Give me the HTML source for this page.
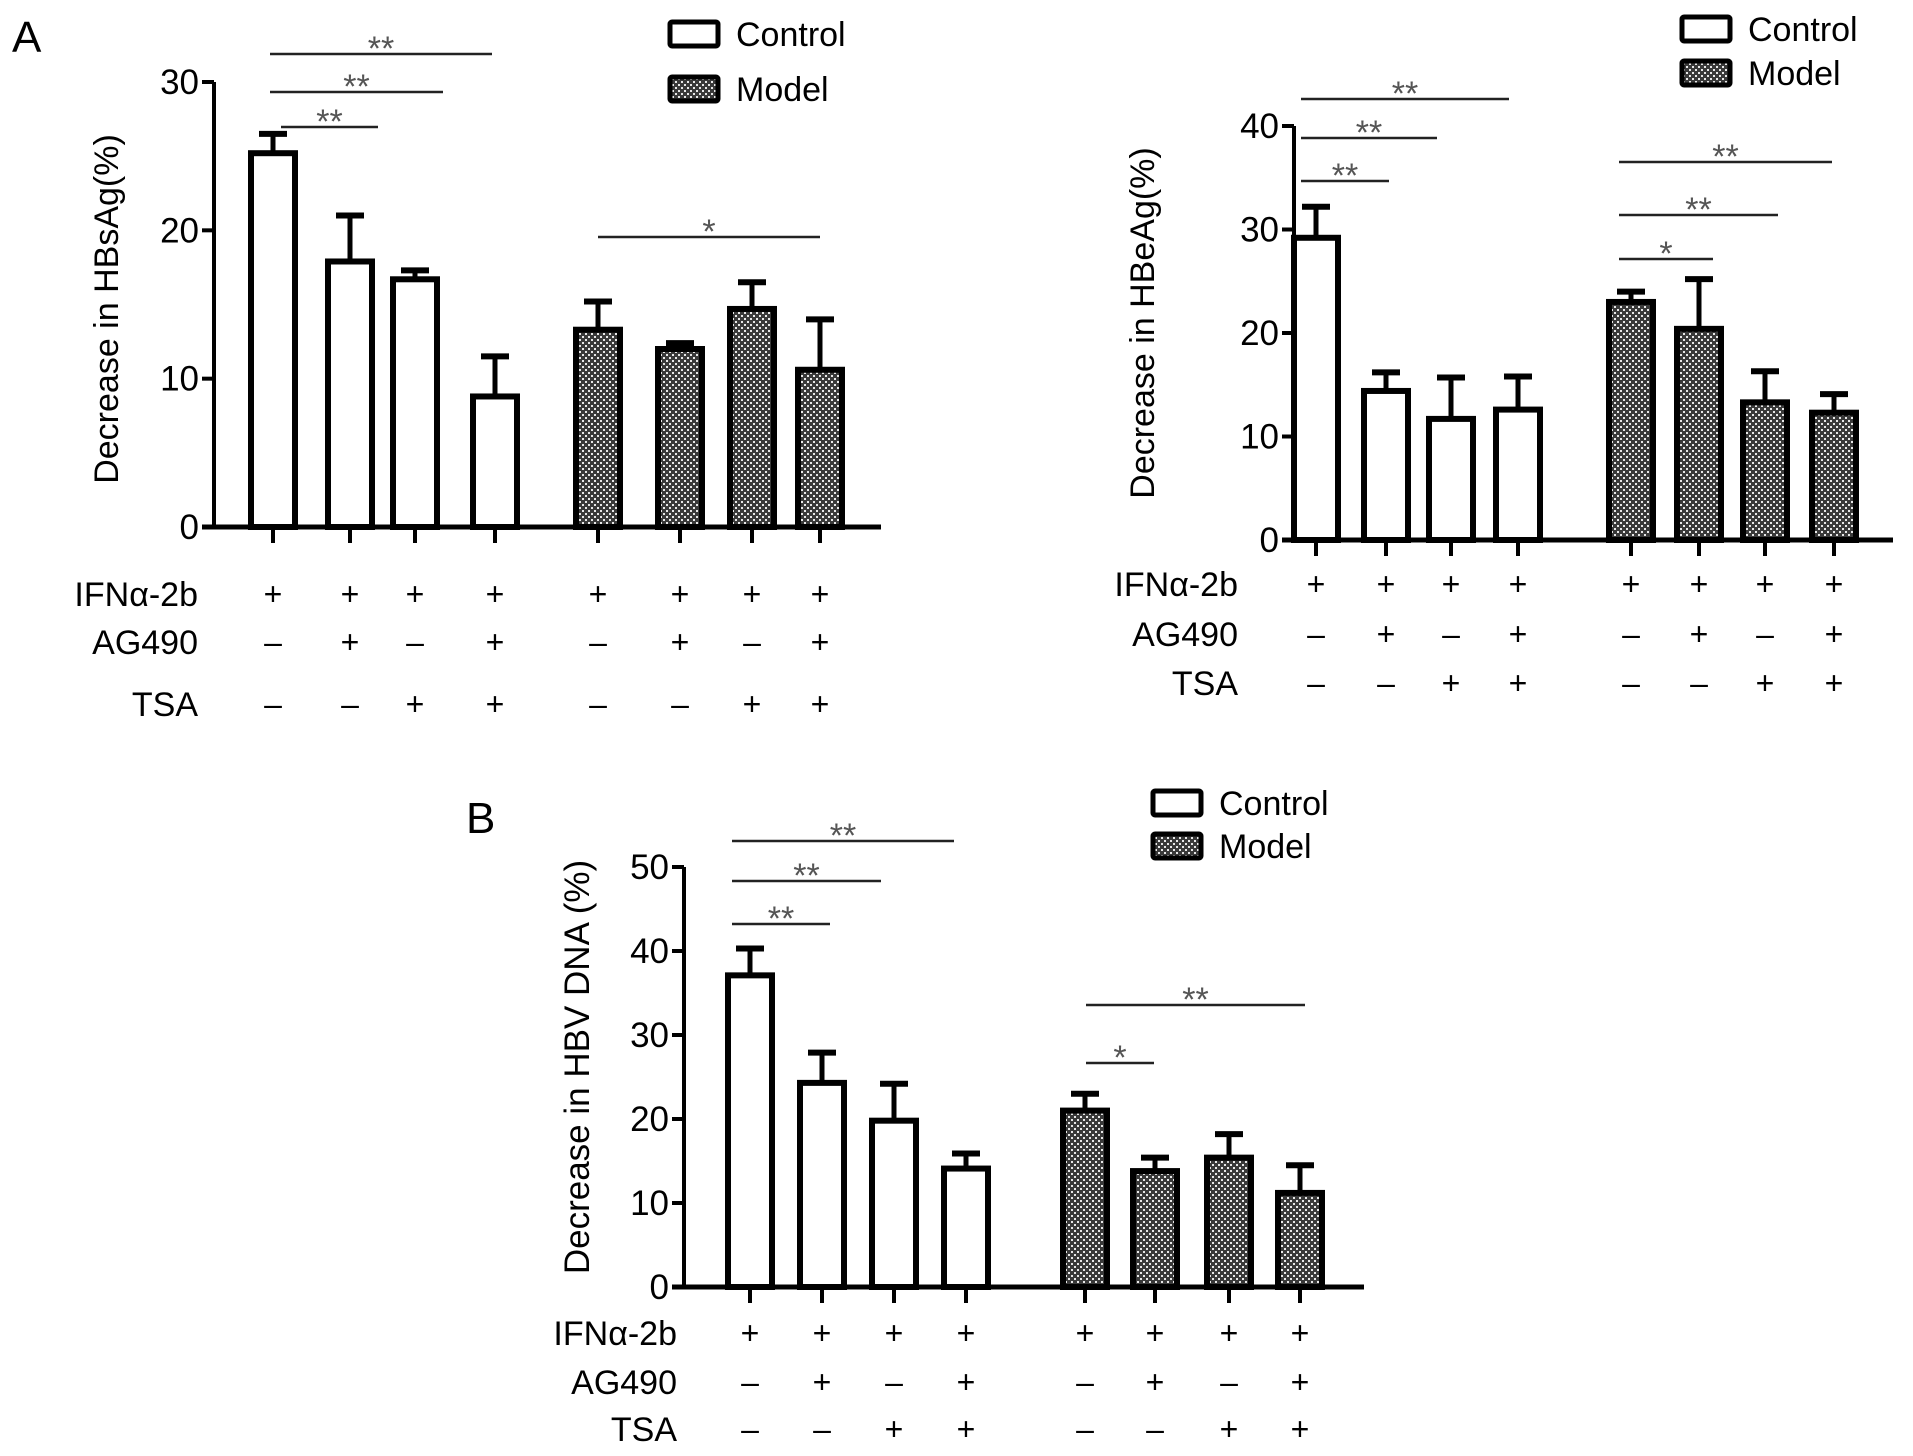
<!DOCTYPE html>
<html><head><meta charset="utf-8"><style>
html,body{margin:0;padding:0;background:#fff;}
svg{display:block;font-family:"Liberation Sans",Arial,sans-serif;}
</style></head><body>
<svg id="fig" width="1913" height="1456" viewBox="0 0 1913 1456" xmlns="http://www.w3.org/2000/svg">
<defs>
<pattern id="chk" width="6" height="6" patternUnits="userSpaceOnUse">
<rect width="6" height="6" fill="#3a3a3a"/>
<rect x="0" y="0" width="2" height="2" fill="#e8e8e8"/>
<rect x="3" y="3" width="2" height="2" fill="#e8e8e8"/>
</pattern>
</defs>
<text x="12" y="52" font-size="44">A</text>
<text x="466" y="833" font-size="44">B</text>
</svg>
<script>
// ---- Data ----
const categories = ["Control","Control","Control","Control","Model","Model","Model","Model"];
const ifnRow = ["+","+","+","+","+","+","+","+"];
const ag490Row = ["–","+","–","+","–","+","–","+"];
const tsaRow = ["–","–","+","+","–","–","+","+"];

const hbsagValues = [25.2,17.9,16.7,8.8,13.3,12.0,14.7,10.6];
const hbsagErrors = [1.3,3.1,0.6,2.7,1.9,0.4,1.8,3.4];
const hbsagTicks = [0,10,20,30];

const hbeagValues = [29.2,14.4,11.7,12.6,23.0,20.4,13.3,12.3];
const hbeagErrors = [3.0,1.8,4.0,3.2,1.0,4.8,3.0,1.8];
const hbeagTicks = [0,10,20,30,40];

const hbvValues = [37.1,24.3,19.8,14.1,21.0,13.8,15.4,11.2];
const hbvErrors = [3.2,3.6,4.4,1.8,2.0,1.6,2.8,3.3];
const hbvTicks = [0,10,20,30,40,50];

const NS = "http://www.w3.org/2000/svg";
const svg = document.getElementById("fig");
function mk(tag, attrs, parent){
  const e = document.createElementNS(NS, tag);
  for (const k in attrs) e.setAttribute(k, attrs[k]);
  (parent||svg).appendChild(e);
  return e;
}

function panel(cfg){
  const g = mk("g", {});
  
  
  const yScale = v => cfg.y0 - (v - 0) / cfg.ymax * (cfg.y0 - cfg.yTop);
  cfg.values.forEach((v,i)=>{
    const cx = cfg.centers[i];
    const yv = yScale(v), ye = yScale(v + cfg.errors[i]);
    const eb = mk("line", {x1:cx,x2:cx,y1:yv,y2:ye,stroke:"#000","stroke-width":5}, g);
    
    
    const cap = mk("line", {x1:cx-14,x2:cx+14,y1:ye,y2:ye,stroke:"#000","stroke-width":6}, g);
    
    
    const r = mk("rect", {x:cx-22,y:yv,width:44,height:cfg.y0-yv,
      fill: categories[i]==="Model" ? "url(#chk)" : "#fff", stroke:"#000","stroke-width":6}, g);
    
    
  });
  const ya = mk("line", {x1:cfg.ax,x2:cfg.ax,y1:cfg.yTop,y2:cfg.y0,stroke:"#000","stroke-width":4}, g);
  
  
  const xa = mk("line", {x1:cfg.ax-12,x2:cfg.xEnd,y1:cfg.y0,y2:cfg.y0,stroke:"#000","stroke-width":5}, g);
  
  
  cfg.ticks.forEach(t=>{
    const y = yScale(t);
    mk("line", {x1:cfg.ax-12,x2:cfg.ax,y1:y,y2:y,stroke:"#000","stroke-width":4}, g);
    const tl = mk("text", {x:cfg.ax-15,y:y+12,"text-anchor":"end","font-size":35}, g);
    tl.textContent = t;
    
    
  });
  cfg.centers.forEach(cx=>{
    mk("line", {x1:cx,x2:cx,y1:cfg.y0,y2:cfg.y0+16,stroke:"#000","stroke-width":4}, g);
  });
  const yt = mk("text", {x:0,y:0,"text-anchor":"middle","font-size":cfg.titleSize,
    transform:`translate(${cfg.titleX},${cfg.titleY}) rotate(-90)`}, g);
  yt.textContent = cfg.title;
  
  
  const rows = [["IFNα-2b", ifnRow],["AG490", ag490Row],["TSA", tsaRow]];
  rows.forEach((row,ri)=>{
    const y = cfg.rowY[ri];
    const lab = mk("text", {x:cfg.labelRight,y:y+12,"text-anchor":"end","font-size":34}, g);
    lab.textContent = row[0];
    
    
    row[1].forEach((s,i)=>{
      const t = mk("text", {x:cfg.centers[i],y:y+11,"text-anchor":"middle","font-size":32}, g);
      t.textContent = s;
      
      
    });
  });
  cfg.sig.forEach(s=>{
    const l = mk("line", {x1:s[0],x2:s[1],y1:s[2],y2:s[2],stroke:"#222","stroke-width":2.5}, g);
    
    
    const t = mk("text", {x:(s[0]+s[1])/2,y:s[2]+6,"text-anchor":"middle","font-size":34,fill:"#555"}, g);
    t.textContent = s[3];
    
    
  });
  const L = cfg.legend;
  [["Control","#fff",L.y1],["Model","url(#chk)",L.y2]].forEach(it=>{
    const b = mk("rect", {x:L.x,y:it[2]-12,width:48,height:24,fill:it[1],stroke:"#000","stroke-width":5,rx:2}, g);
    
    
    const t = mk("text", {x:L.x+66,y:it[2]+12,"font-size":34}, g);
    t.textContent = it[0];
    
    
  });
}

panel({name:"chart-hbsag", values:hbsagValues, errors:hbsagErrors, ticks:hbsagTicks, ymax:30,
  ax:214, y0:527, yTop:82, xEnd:881,
  centers:[273,350,415,495,598,680,752,820],
  title:"Decrease in HBsAg(%)", titleSize:34, titleX:118, titleY:309,
  rowY:[594,642,704], labelRight:198,
  sig:[[270,492,54,"**"],[270,443,92,"**"],[281,378,127,"**"],[598,820,237,"*"]],
  legend:{x:670,y1:34,y2:89}});

panel({name:"chart-hbeag", values:hbeagValues, errors:hbeagErrors, ticks:hbeagTicks, ymax:40,
  ax:1294, y0:540, yTop:126, xEnd:1893,
  centers:[1316,1386,1451,1518,1631,1699,1765,1834],
  title:"Decrease in HBeAg(%)", titleSize:34, titleX:1154, titleY:323,
  rowY:[584,634,683], labelRight:1238,
  sig:[[1301,1509,99,"**"],[1301,1437,138,"**"],[1301,1389,181,"**"],
       [1619,1832,162,"**"],[1619,1778,215,"**"],[1619,1713,259,"*"]],
  legend:{x:1682,y1:29,y2:73}});

panel({name:"chart-hbv-dna", values:hbvValues, errors:hbvErrors, ticks:hbvTicks, ymax:50,
  ax:684, y0:1287, yTop:867, xEnd:1364,
  centers:[750,822,894,966,1085,1155,1229,1300],
  title:"Decrease in HBV DNA (%)", titleSize:35, titleX:589, titleY:1067,
  rowY:[1333,1382,1429], labelRight:677,
  sig:[[732,954,841,"**"],[732,881,881,"**"],[732,830,924,"**"],[1086,1305,1005,"**"],[1086,1154,1063,"*"]],
  legend:{x:1153,y1:803,y2:846}});
</script>
</body></html>
